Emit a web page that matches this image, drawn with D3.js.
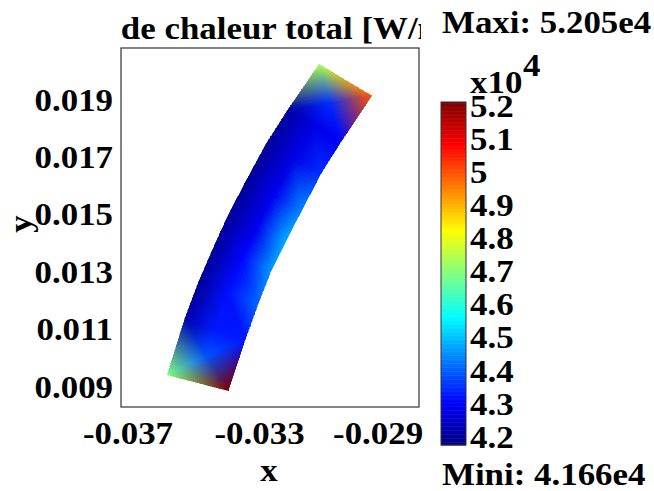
<!DOCTYPE html>
<html><head><meta charset="utf-8">
<script src="https://cdn.jsdelivr.net/npm/d3@7"></script>
<style>html,body{margin:0;padding:0;background:#fff}svg{display:block}text{font-family:"Liberation Serif",serif;font-weight:bold;fill:#000}</style>
</head><body><div id="chart"></div>
<script>
const titleText = "Flux de chaleur total [W/m2]";
const maxiText = "Maxi: 5.205e4";
const miniText = "Mini: 4.166e4";
const xTicks = [-0.037, -0.033, -0.029];
const yTicks = [0.009, 0.011, 0.013, 0.015, 0.017, 0.019];
const colorTicks = [4.2, 4.3, 4.4, 4.5, 4.6, 4.7, 4.8, 4.9, 5, 5.1, 5.2];
const valueMin = 4.166, valueMax = 5.205;
// mesh nodes, top of the band to the bottom
const leftX  = [-0.03108,-0.03205,-0.03270,-0.03332,-0.03387,-0.03436,-0.03479,-0.03522,-0.03577];
const leftY  = [0.02024,0.01865,0.01750,0.01621,0.01503,0.01381,0.01269,0.01140,0.00942];
const rightX = [-0.02946,-0.03041,-0.03100,-0.03158,-0.03211,-0.03257,-0.03297,-0.03337,-0.03389];
const rightY = [0.01914,0.01754,0.01649,0.01524,0.01409,0.01304,0.01189,0.01064,0.00887];
const leftValues  = [4.727,4.20,4.19,4.19,4.19,4.19,4.19,4.21,4.685];
const midValues   = [4.40,4.27,4.27,4.28,4.28,4.30,4.31,4.32,4.60];
const rightValues = [4.99,4.29,4.34,4.43,4.47,4.45,4.40,4.32,5.205];
const topCenterValue = 4.34, bottomCenterValue = 4.38;

const svg = d3.select("#chart").append("svg").attr("width",654).attr("height",491);
const box = {l:121,r:419,t:48,b:407};
const x = d3.scaleLinear().domain([-0.0372,-0.0280]).range([box.l,box.r]);
const y = d3.scaleLinear().domain([0.00830,0.02081]).range([box.b,box.t]);

const jetT = [0,.125,.375,.625,.875,1];
const jetC = ["#00007f","#0000ff","#00ffff","#ffff00","#ff0000","#7f0000"];
const jet = d3.scaleLinear().domain(jetT.map(t=>valueMin+t*(valueMax-valueMin))).range(jetC).interpolate(d3.interpolateRgb).clamp(true);
const rgbOf = v => { const c=d3.rgb(jet(v)); return [c.r,c.g,c.b]; };

// Gouraud shaded triangles: colours are blended between nodes
const field = svg.append("g").attr("shape-rendering","crispEdges");
function shade(a,b,c,N){
  const vtx=(i,j)=>{const k=N-i-j;return {px:(a.px*i+b.px*j+c.px*k)/N,py:(a.py*i+b.py*j+c.py*k)/N,c:a.c.map((_,q)=>(a.c[q]*i+b.c[q]*j+c.c[q]*k)/N)};};
  const tri=(p,q,r)=>{
    const m=[0,1,2].map(s=>Math.round((p.c[s]+q.c[s]+r.c[s])/3));
    const col=`rgb(${m[0]},${m[1]},${m[2]})`;
    field.append("path").attr("d",d3.line()([[p.px,p.py],[q.px,q.py],[r.px,r.py]])+"Z").attr("fill",col).attr("stroke",col).attr("stroke-width",0.6);
  };
  for(let i=0;i<N;i++)for(let j=0;j<N-i;j++){
    tri(vtx(i,j),vtx(i+1,j),vtx(i,j+1));
    if(i+j<N-1) tri(vtx(i+1,j),vtx(i,j+1),vtx(i+1,j+1));
  }
}
const node=(dx,dy,v)=>({px:x(dx),py:y(dy),c:rgbOf(v)});
const midNode=i=>node((leftX[i]+rightX[i])/2,(leftY[i]+rightY[i])/2,midValues[i]);
const last=leftX.length-1;
d3.range(last).forEach(i=>{
  const a=node(leftX[i],leftY[i],leftValues[i]), b=node(rightX[i],rightY[i],rightValues[i]);
  const c=node(rightX[i+1],rightY[i+1],rightValues[i+1]), d=node(leftX[i+1],leftY[i+1],leftValues[i+1]);
  if(i===0){
    const m={px:(a.px+b.px+c.px+d.px)/4,py:(a.py+b.py+c.py+d.py)/4,c:rgbOf(topCenterValue)};
    const f=midNode(1);
    shade(a,b,m,20);shade(b,c,m,20);shade(c,f,m,14);shade(f,d,m,14);shade(d,a,m,20);
  } else if(i===last-1){
    const m={px:(a.px+b.px+c.px+d.px)/4,py:(a.py+b.py+c.py+d.py)/4,c:rgbOf(bottomCenterValue)};
    const e=midNode(i);
    shade(a,e,m,14);shade(e,b,m,14);shade(b,c,m,20);shade(c,d,m,20);shade(d,a,m,20);
  } else {
    const e=midNode(i), f=midNode(i+1);
    shade(a,e,f,10);shade(a,f,d,10);shade(e,b,c,10);shade(e,c,f,10);
  }
});

svg.append("rect").attr("x",box.l).attr("y",box.t).attr("width",box.r-box.l).attr("height",box.b-box.t).attr("fill","none").attr("stroke","#333").attr("stroke-width",1.2);

// all text is widened the way the reference is
const fs=32, widen=1.09;
const stretch=sel=>sel.each(function(){this.setAttribute("textLength",this.getComputedTextLength()*widen);this.setAttribute("lengthAdjust","spacingAndGlyphs");});
const xAxis=svg.append("g").attr("transform",`translate(0,${box.b})`).call(d3.axisBottom(x).tickValues(xTicks).tickSize(0).tickFormat(d3.format(".3f")));
xAxis.select(".domain").remove();
xAxis.selectAll("text").attr("font-size",fs).attr("y",14).attr("dy","0.71em").attr("dx",(d,i)=>[0,2,-9][i]).text(d=>d3.format(".3f")(d).replace("−","-")).call(stretch);
const yAxis=svg.append("g").attr("transform",`translate(${box.l},0)`).call(d3.axisLeft(y).tickValues(yTicks).tickSize(0).tickFormat(d3.format(".3f")));
yAxis.select(".domain").remove();
yAxis.selectAll("text").attr("font-size",fs).attr("x",-8).call(stretch);

svg.append("text").attr("x",269).attr("y",481).attr("text-anchor","middle").attr("font-size",fs).text("x").call(stretch);
svg.append("text").attr("transform","translate(31,224) rotate(-90)").attr("text-anchor","middle").attr("font-size",fs).text("y").call(stretch);

svg.append("clipPath").attr("id","tc").append("rect").attr("x",box.l).attr("y",0).attr("width",box.r-box.l+2).attr("height",47);
svg.append("g").attr("clip-path","url(#tc)").append("text").attr("x",260).attr("y",39).attr("text-anchor","middle").attr("font-size",fs).text(titleText).call(stretch);

svg.append("text").attr("x",442).attr("y",33).attr("font-size",fs).text(maxiText).call(stretch);
svg.append("text").attr("x",442).attr("y",485).attr("font-size",fs).text(miniText).call(stretch);

// colour bar
const cb=d3.scaleLinear().domain([valueMin,valueMax]).range([445,102]);
const steps=d3.range(0,256).map(i=>valueMin+(valueMax-valueMin)*i/256);
const stepH=(valueMax-valueMin)/256;
svg.append("g").selectAll("rect").data(steps).join("rect")
  .attr("x",441).attr("width",25).attr("y",d=>cb(d+stepH)).attr("height",d=>cb(d)-cb(d+stepH)+0.5).attr("fill",d=>jet(d+stepH/2));
svg.append("rect").attr("x",441).attr("y",102).attr("width",25).attr("height",343).attr("fill","none").attr("stroke","#333").attr("stroke-width",1);
const cAxis=svg.append("g").attr("transform","translate(466,3)").call(d3.axisRight(cb).tickValues(colorTicks).tickSize(0).tickFormat(d3.format("~g")));
cAxis.select(".domain").remove();
cAxis.selectAll("text").attr("font-size",fs).attr("x",4).call(stretch);
svg.append("text").attr("x",470).attr("y",93).attr("font-size",fs).text("x10").call(stretch);
svg.append("text").attr("x",523).attr("y",76).attr("font-size",fs).text("4").call(stretch);
</script></body></html>
